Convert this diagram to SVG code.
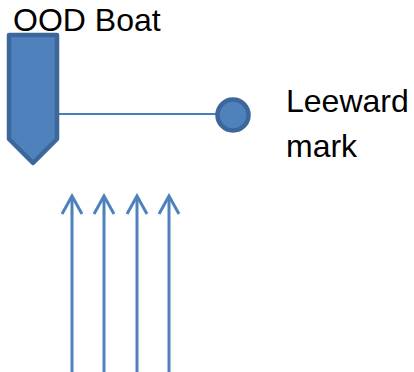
<svg xmlns="http://www.w3.org/2000/svg" width="414" height="372" viewBox="0 0 414 372">
<style>
.lbl{font-family:"Liberation Sans",Arial,sans-serif;font-size:32px;fill:#000}
.shape{fill:#4f81bd;stroke:#3c679a;stroke-width:4.5;stroke-linejoin:round}
.wind{stroke:#4f81bd;stroke-width:3;fill:none}
</style>
<defs>
<marker id="ah" viewBox="0 0 24 24" refX="21" refY="12" markerWidth="24" markerHeight="24" markerUnits="userSpaceOnUse" orient="auto">
<polyline points="3,2 21,12 3,22" fill="none" stroke="#4f81bd" stroke-width="3"/>
</marker>
</defs>
<g id="connectors">
<line x1="58" y1="114" x2="217" y2="114" stroke="#4a7ebb" stroke-width="2"/>
<line class="wind" x1="72" y1="372" x2="72" y2="196" marker-end="url(#ah)"/>
<line class="wind" x1="104" y1="372" x2="104" y2="196" marker-end="url(#ah)"/>
<line class="wind" x1="137" y1="372" x2="137" y2="196" marker-end="url(#ah)"/>
<line class="wind" x1="169" y1="372" x2="169" y2="196" marker-end="url(#ah)"/>
</g>
<g id="ood-boat">
<path class="shape" d="M9,35 H57 V139 L33,163 L9,139 Z"/>
<text class="lbl" x="13" y="31">OOD Boat</text>
</g>
<g id="leeward-mark">
<circle class="shape" cx="233" cy="115" r="15.5"/>
<text class="lbl" x="286" y="112">Leeward</text>
<text class="lbl" x="286" y="157">mark</text>
</g>
</svg>
